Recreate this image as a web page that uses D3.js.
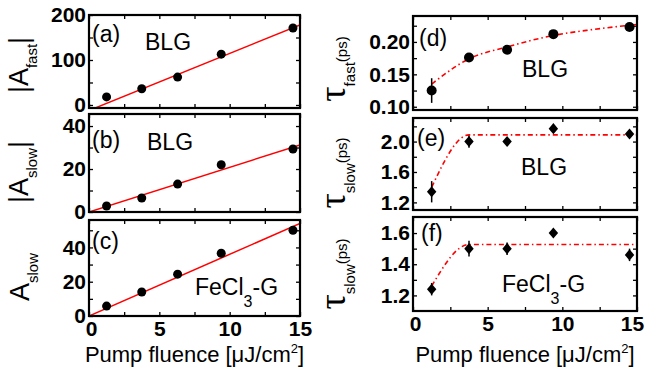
<!DOCTYPE html>
<html>
<head>
<meta charset="utf-8">
<script src="https://cdn.jsdelivr.net/npm/d3@7"></script>
<style>
  body { margin: 0; background: #fff; }
  svg { display: block; font-family: 'Liberation Sans', Arial, sans-serif; }
</style>
</head>
<body>
<div id="chart"></div>
<script>
// values
let fluence = [1.25, 3.75, 6.3, 9.4, 14.5]

let aFast = [18, 36, 62, 113, 171]
let aSlowBLG = [2.8, 6.5, 13, 22, 29.3]
let aSlowFeCl3 = [5.8, 14, 24.4, 36.6, 50]

let tauFast = [0.125, 0.176, 0.188, 0.212, 0.223]
let tauFastErr = [0.019, 0.004, 0.004, 0.003, 0.003]
let tauSlowBLG = [1.34, 2.0, 2.0, 2.17, 2.1]
let tauSlowBLGErr = [0.14, 0.08, 0.05, 0.02, 0.02]
let tauSlowFeCl3 = [1.24, 1.5, 1.5, 1.6, 1.46]
let tauSlowFeCl3Err = [0.04, 0.05, 0.04, 0.015, 0.04]

// fit curves, [fluence, value]
let fitAFast = [[0.45, -6.5], [15, 178]]
let fitASlowBLG = [[0, 0], [15, 31.2]]
let fitASlowFeCl3 = [[0, 0], [15, 54]]
let fitTauFast = [[1.25, 0.135], [3.75, 0.174], [6.25, 0.192], [9.4, 0.21], [12, 0.219], [15, 0.227]]
let fitTauSlowBLG = [[1.25, 1.4], [3.75, 2.088], [15, 2.088]]
let fitTauSlowFeCl3 = [[1.25, 1.26], [3.75, 1.527], [15, 1.527]]

let xTicks = [0, 5, 10, 15]
let xMinorTicks = [2.5, 7.5, 12.5]

let yTicksA = [0, 100, 200], yMinorA = [50, 150]
let yTicksB = [0, 20, 40], yMinorB = [10, 30]
let yTicksC = [0, 20, 40], yMinorC = [10, 30, 50]
let yTicksD = [0.10, 0.15, 0.20], yMinorD = [0.125, 0.175, 0.225]
let yTicksE = [1.2, 1.6, 2.0], yMinorE = [1.4, 1.8, 2.2]
let yTicksF = [1.2, 1.4, 1.6], yMinorF = [1.3, 1.5]

let xLabel = 'Pump fluence [μJ/cm'

let svg = d3.select('#chart').append('svg')
  .attr('width', 648)
  .attr('height', 373)

let diamond = {
  draw(context, size) {
    let h = Math.sqrt(size) * 0.95
    let w = h * 0.85
    context.moveTo(0, -h)
    context.lineTo(w, 0)
    context.lineTo(0, h)
    context.lineTo(-w, 0)
    context.closePath()
  }
}

let clipId = 0

function drawPanel(p) {
  let x = d3.scaleLinear().domain([0, 15]).range([p.left, p.right])
  let y = d3.scaleLinear().domain(p.domain).range([p.bottom, p.top])
  let g = svg.append('g')

  let id = 'clip' + (clipId++)
  svg.append('clipPath').attr('id', id)
    .append('rect')
    .attr('x', p.left).attr('y', p.top)
    .attr('width', p.right - p.left).attr('height', p.bottom - p.top)

  // inward ticks on all four sides
  let allX = xTicks.concat(xMinorTicks)
  let allY = p.ticks.concat(p.minor)
  let tickAxes = [
    [d3.axisBottom(x).tickValues(allX), 'translate(0,' + p.bottom + ')'],
    [d3.axisTop(x).tickValues(allX), 'translate(0,' + p.top + ')'],
    [d3.axisLeft(y).tickValues(allY), 'translate(' + p.left + ',0)'],
    [d3.axisRight(y).tickValues(allY), 'translate(' + p.right + ',0)']
  ]
  tickAxes.forEach(a => {
    let ax = g.append('g')
      .attr('transform', a[1])
      .call(a[0].tickSize(-4).tickFormat(''))
    ax.select('.domain').remove()
    ax.selectAll('line').attr('stroke', '#000').attr('stroke-width', 1.3)
  })

  // y tick labels
  let yl = g.append('g')
    .attr('transform', 'translate(' + p.left + ',0)')
    .call(d3.axisLeft(y).tickValues(p.ticks).tickSize(0).tickPadding(3).tickFormat(p.fmt))
  yl.select('.domain').remove()
  yl.selectAll('text')
    .style('font-size', '21px')
    .style('font-weight', 'bold')
    .attr('fill', '#000')

  if (p.showX) {
    let xl = g.append('g')
      .attr('transform', 'translate(0,' + p.bottom + ')')
      .call(d3.axisBottom(x).tickValues(xTicks).tickSize(0).tickPadding(5))
    xl.select('.domain').remove()
    xl.selectAll('text')
      .style('font-size', '21px')
      .style('font-weight', 'bold')
      .attr('fill', '#000')
    xl.selectAll('text').filter(d => d === 0).attr('dx', 2)
    xl.selectAll('text').filter(d => d === 15).attr('dx', p.lastDx || 0)

    let t = g.append('text')
      .attr('x', (p.left + p.right) / 2)
      .attr('y', 362)
      .attr('text-anchor', 'middle')
      .style('font-size', '22px')
    t.append('tspan').text(xLabel)
    t.append('tspan').attr('dy', -9).style('font-size', '13px').text('2')
    t.append('tspan').attr('dy', 9).text(']')
  }

  // fit
  let fitLine = d3.line()
    .x(d => x(d[0]))
    .y(d => y(d[1]))
    .curve(p.dashed ? d3.curveMonotoneX : d3.curveLinear)
  g.append('path')
    .datum(p.fit)
    .attr('clip-path', 'url(#' + id + ')')
    .attr('d', fitLine)
    .attr('fill', 'none')
    .attr('stroke', '#ff0000')
    .attr('stroke-width', p.dashed ? 1.6 : 1.5)
    .attr('stroke-dasharray', p.dashed ? '5,3,1.5,3' : null)

  // error bars
  if (p.err) {
    g.selectAll('.err')
      .data(p.values)
      .enter().append('line')
      .attr('x1', (d, i) => x(fluence[i]))
      .attr('x2', (d, i) => x(fluence[i]))
      .attr('y1', (d, i) => y(d - p.err[i]))
      .attr('y2', (d, i) => y(d + p.err[i]))
      .attr('stroke', '#000')
      .attr('stroke-width', 1.5)
  }

  // points
  if (p.marker === 'diamond') {
    g.selectAll('.pt')
      .data(p.values)
      .enter().append('path')
      .attr('transform', (d, i) => 'translate(' + x(fluence[i]) + ',' + y(d) + ')')
      .attr('d', d3.symbol(diamond, 34))
      .attr('fill', '#000')
  } else {
    g.selectAll('.pt')
      .data(p.values)
      .enter().append('circle')
      .attr('cx', (d, i) => x(fluence[i]))
      .attr('cy', d => y(d))
      .attr('r', p.r)
      .attr('fill', '#000')
  }

  // frame
  g.append('rect')
    .attr('x', p.left).attr('y', p.top)
    .attr('width', p.right - p.left).attr('height', p.bottom - p.top)
    .attr('fill', 'none')
    .attr('stroke', '#000')
    .attr('stroke-width', 2.2)

  // panel letter and sample
  g.append('text')
    .attr('x', p.left + p.tag[0]).attr('y', p.tag[1])
    .style('font-size', '23px')
    .text(p.label)

  let s = g.append('text')
    .attr('x', p.sample[0]).attr('y', p.sample[1])
    .style('font-size', '23px')
  if (p.sampleName === 'FeCl3-G') {
    s.append('tspan').text('FeCl')
    s.append('tspan').attr('dy', 12).style('font-size', '16px').text('3')
    s.append('tspan').attr('dy', -12).text('-G')
  } else {
    s.text(p.sampleName)
  }
}

function drawYTitle(x, cy, parts) {
  let t = svg.append('text')
    .attr('transform', 'translate(' + x + ',' + cy + ') rotate(-90)')
    .attr('text-anchor', 'middle')
  parts.forEach(pt => {
    t.append('tspan')
      .attr('dy', pt[2])
      .style('font-size', pt[1] + 'px')
      .style('font-family', pt[3] || null)
      .text(pt[0])
  })
}

let fmt0 = d3.format('d')

drawPanel({ left: 89, right: 300, top: 15, bottom: 108, domain: [-6.7, 200],
  ticks: yTicksA, minor: yMinorA, fmt: fmt0, values: aFast, fit: fitAFast, r: 4.5,
  label: '(a)', tag: [3, 42], sample: [145, 50], sampleName: 'BLG' })
drawPanel({ left: 89, right: 300, top: 114, bottom: 212, domain: [0, 45.6],
  ticks: yTicksB, minor: yMinorB, fmt: fmt0, values: aSlowBLG, fit: fitASlowBLG, r: 4.5,
  label: '(b)', tag: [3, 148], sample: [147, 150], sampleName: 'BLG' })
drawPanel({ left: 89, right: 300, top: 220, bottom: 316, domain: [0, 56],
  ticks: yTicksC, minor: yMinorC, fmt: fmt0, values: aSlowFeCl3, fit: fitASlowFeCl3, r: 4.5,
  label: '(c)', tag: [3, 249], sample: [195, 295], sampleName: 'FeCl3-G', showX: true })

drawPanel({ left: 413, right: 637, top: 16, bottom: 110, domain: [0.095, 0.24],
  ticks: yTicksD, minor: yMinorD, fmt: d3.format('.2f'), values: tauFast, err: tauFastErr,
  fit: fitTauFast, dashed: true, r: 5,
  label: '(d)', tag: [6, 46], sample: [522, 77], sampleName: 'BLG' })
drawPanel({ left: 413, right: 637, top: 118, bottom: 210, domain: [1.1, 2.31],
  ticks: yTicksE, minor: yMinorE, fmt: d3.format('.1f'), values: tauSlowBLG, err: tauSlowBLGErr,
  fit: fitTauSlowBLG, dashed: true, marker: 'diamond',
  label: '(e)', tag: [4, 146], sample: [521, 175], sampleName: 'BLG' })
drawPanel({ left: 413, right: 637, top: 217, bottom: 311, domain: [1.1, 1.703],
  ticks: yTicksF, minor: yMinorF, fmt: d3.format('.1f'), values: tauSlowFeCl3, err: tauSlowFeCl3Err,
  fit: fitTauSlowFeCl3, dashed: true, marker: 'diamond',
  label: '(f)', tag: [8, 241], sample: [502, 292], sampleName: 'FeCl3-G', showX: true, lastDx: -5 })

drawYTitle(28, 65, [['|A', 27, 0], ['fast', 15, 9], ['|', 27, -9]])
drawYTitle(28, 172, [['|A', 27, 0], ['slow', 15, 9], ['|', 27, -9]])
drawYTitle(29, 277, [['A', 27, 0], ['slow', 15, 9]])
drawYTitle(345, 69, [['τ', 38, 0, 'Liberation Serif'], ['fast', 15, 10], ['(ps)', 15, -8]])
drawYTitle(345, 173, [['τ', 38, 0, 'Liberation Serif'], ['slow', 15, 10], ['(ps)', 15, -8]])
drawYTitle(345, 274, [['τ', 38, 0, 'Liberation Serif'], ['slow', 15, 10], ['(ps)', 15, -8]])
</script>
</body>
</html>
